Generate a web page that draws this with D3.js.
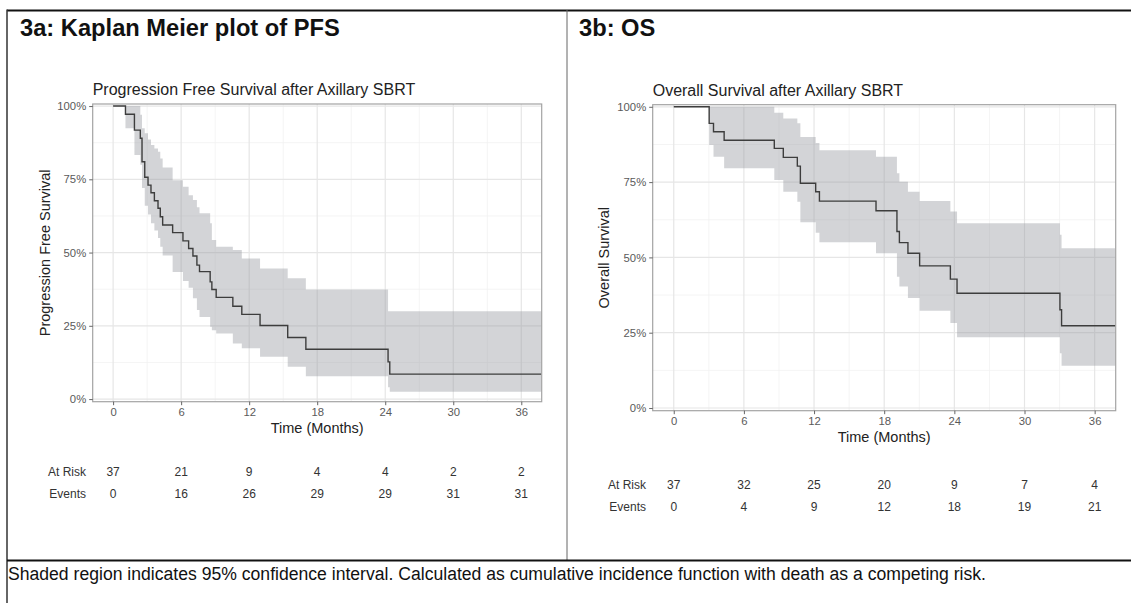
<!DOCTYPE html>
<html>
<head>
<meta charset="utf-8">
<script src="https://cdn.jsdelivr.net/npm/d3@7"></script>
<style>
  body { margin: 0; background: #fff; }
  svg { display: block; font-family: "Liberation Sans", Arial, sans-serif; }
</style>
</head>
<body>
<script>
// ---- data ----
const timeTicks = [0, 6, 12, 18, 24, 30, 36];
const minorTimeTicks = [3, 9, 15, 21, 27, 33];
const survTicks = [0, 0.25, 0.5, 0.75, 1];
const minorSurvTicks = [0.125, 0.375, 0.625, 0.875];

// progression free survival (step times in months)
const pfsTime  = [0, 1.09, 1.88, 2.4, 2.55, 2.79, 3.08, 3.34, 3.64, 3.96, 4.16, 4.37, 5.25, 6.16, 6.66, 7.04, 7.39, 7.62, 8.56, 8.71, 9.09, 10.56, 11.35, 12.96, 15.4, 17.0, 24.25, 24.4];
const pfsSurv  = [1, 0.972, 0.918, 0.89, 0.81, 0.757, 0.73, 0.704, 0.677, 0.651, 0.622, 0.594, 0.568, 0.54, 0.514, 0.488, 0.457, 0.435, 0.40, 0.374, 0.347, 0.317, 0.289, 0.251, 0.21, 0.17, 0.127, 0.085];
const pfsUpper = [1, 1, 1, 0.97, 0.924, 0.907, 0.886, 0.867, 0.855, 0.844, 0.821, 0.79, 0.747, 0.725, 0.696, 0.679, 0.655, 0.634, 0.60, 0.543, 0.52, 0.509, 0.48, 0.446, 0.412, 0.374, 0.30, 0.30];
const pfsLower = [1, 0.924, 0.833, 0.80, 0.72, 0.66, 0.63, 0.60, 0.575, 0.55, 0.52, 0.49, 0.434, 0.403, 0.38, 0.344, 0.304, 0.28, 0.247, 0.235, 0.224, 0.19, 0.173, 0.144, 0.11, 0.078, 0.04, 0.025];
const pfsAtRisk = [37, 21, 9, 4, 4, 2, 2];
const pfsEvents = [0, 16, 26, 29, 29, 31, 31];

// overall survival
const osTime  = [0, 3.03, 3.4, 4.31, 8.6, 9.37, 10.57, 10.83, 12.14, 12.46, 17.3, 19.09, 19.3, 20.03, 21.03, 23.66, 24.23, 33.03, 33.17];
const osSurv  = [1, 0.945, 0.917, 0.889, 0.862, 0.832, 0.803, 0.746, 0.718, 0.687, 0.655, 0.586, 0.549, 0.514, 0.472, 0.428, 0.381, 0.326, 0.273];
const osUpper = [1, 1, 1, 1, 0.98, 0.961, 0.945, 0.90, 0.88, 0.856, 0.834, 0.779, 0.751, 0.718, 0.687, 0.652, 0.613, 0.575, 0.53];
const osLower = [1, 0.873, 0.834, 0.796, 0.757, 0.718, 0.685, 0.617, 0.582, 0.55, 0.514, 0.436, 0.403, 0.365, 0.323, 0.282, 0.235, 0.182, 0.14];
const osAtRisk = [37, 32, 25, 20, 9, 7, 4];
const osEvents = [0, 4, 9, 12, 18, 19, 21];

const footnote = "Shaded region indicates 95% confidence interval. Calculated as cumulative incidence function with death as a competing risk.";

// ---- layout ----
const W = 1131, H = 603;
const svg = d3.select("body").append("svg").attr("width", W).attr("height", H);

// table frame
svg.append("line").attr("x1", 7).attr("x2", W).attr("y1", 10.5).attr("y2", 10.5)
  .attr("stroke", "#111").attr("stroke-width", 2);
svg.append("line").attr("x1", 7).attr("x2", 7).attr("y1", 9.5).attr("y2", H)
  .attr("stroke", "#333").attr("stroke-width", 1.5);
svg.append("line").attr("x1", 567).attr("x2", 567).attr("y1", 10).attr("y2", 560)
  .attr("stroke", "#666").attr("stroke-width", 1);
svg.append("line").attr("x1", 7).attr("x2", W).attr("y1", 560.5).attr("y2", 560.5)
  .attr("stroke", "#111").attr("stroke-width", 2);

svg.append("text").attr("x", 20).attr("y", 36)
  .attr("font-size", 23.7).attr("font-weight", "bold").attr("fill", "#111")
  .text("3a: Kaplan Meier plot of PFS");
svg.append("text").attr("x", 579).attr("y", 36)
  .attr("font-size", 23.7).attr("font-weight", "bold").attr("fill", "#111")
  .text("3b: OS");

svg.append("text").attr("x", 8).attr("y", 580)
  .attr("font-size", 17.6).attr("fill", "#111")
  .text(footnote);

const panels = [
  { key: "pfs", left: 92.7, right: 541.7, top: 104, bottom: 401.7,
    title: "Progression Free Survival after Axillary SBRT", ylab: "Progression Free Survival",
    ylabX: 50, xlabY: 433, riskY: [476, 498], riskLabelX: 86,
    time: pfsTime, surv: pfsSurv, upper: pfsUpper, lower: pfsLower, atRisk: pfsAtRisk, events: pfsEvents },
  { key: "os", left: 652.7, right: 1115.7, top: 104.7, bottom: 410.7,
    title: "Overall Survival after Axillary SBRT", ylab: "Overall Survival",
    ylabX: 609, xlabY: 442, riskY: [489, 511], riskLabelX: 646,
    time: osTime, surv: osSurv, upper: osUpper, lower: osLower, atRisk: osAtRisk, events: osEvents }
];

panels.forEach(p => {
  const x = d3.scaleLinear().domain([-1.8, 37.8]).range([p.left, p.right]);
  const y = d3.scaleLinear().domain([-0.009, 1.007]).range([p.bottom, p.top]);
  const g = svg.append("g");

  g.append("clipPath").attr("id", "clip-" + p.key)
    .append("rect").attr("x", p.left).attr("y", p.top)
    .attr("width", p.right - p.left).attr("height", p.bottom - p.top);

  // grid
  g.selectAll(null).data(minorTimeTicks).join("line")
    .attr("x1", d => x(d)).attr("x2", d => x(d)).attr("y1", p.top).attr("y2", p.bottom)
    .attr("stroke", "#f1f1f1").attr("stroke-width", 0.8);
  g.selectAll(null).data(minorSurvTicks).join("line")
    .attr("y1", d => y(d)).attr("y2", d => y(d)).attr("x1", p.left).attr("x2", p.right)
    .attr("stroke", "#f1f1f1").attr("stroke-width", 0.8);
  g.selectAll(null).data(timeTicks).join("line")
    .attr("x1", d => x(d)).attr("x2", d => x(d)).attr("y1", p.top).attr("y2", p.bottom)
    .attr("stroke", "#e6e6e6").attr("stroke-width", 1.2);
  g.selectAll(null).data(survTicks).join("line")
    .attr("y1", d => y(d)).attr("y2", d => y(d)).attr("x1", p.left).attr("x2", p.right)
    .attr("stroke", "#e6e6e6").attr("stroke-width", 1.2);

  // step curve with its confidence band
  const pts = p.time.map((t, i) => ({ t, s: p.surv[i], hi: p.upper[i], lo: p.lower[i] }));
  pts.push({ ...pts[pts.length - 1], t: x.domain()[1] });

  const band = d3.area().curve(d3.curveStepAfter)
    .x(d => x(d.t)).y0(d => y(d.lo)).y1(d => y(d.hi));
  const line = d3.line().curve(d3.curveStepAfter)
    .x(d => x(d.t)).y(d => y(d.s));

  const plot = g.append("g").attr("clip-path", `url(#clip-${p.key})`);
  plot.append("path").datum(pts).attr("d", band)
    .attr("fill", "rgb(150,153,160)").attr("fill-opacity", 0.42);
  plot.append("path").datum(pts).attr("d", line)
    .attr("fill", "none").attr("stroke", "#3d3d3d").attr("stroke-width", 1.4);

  // panel border
  g.append("rect").attr("x", p.left).attr("y", p.top)
    .attr("width", p.right - p.left).attr("height", p.bottom - p.top)
    .attr("fill", "none").attr("stroke", "#a3a3a3").attr("stroke-width", 1.2);

  // axes
  const styleAxis = a => {
    a.select(".domain").remove();
    a.selectAll(".tick line").attr("stroke", "#555").attr("stroke-width", 0.9);
    a.selectAll(".tick text").attr("fill", "#5a5a5a").attr("font-size", 11.3)
      .attr("font-family", "Liberation Sans, Arial, sans-serif");
  };
  g.append("g").attr("transform", `translate(${p.left},0)`)
    .call(d3.axisLeft(y).tickValues(survTicks).tickFormat(d3.format(".0%")).tickSize(3.5).tickPadding(3))
    .call(styleAxis);
  g.append("g").attr("transform", `translate(0,${p.bottom})`)
    .call(d3.axisBottom(x).tickValues(timeTicks).tickSize(3.5).tickPadding(3))
    .call(styleAxis);

  // titles
  g.append("text").attr("x", p.left).attr("y", p.top - 9)
    .attr("font-size", 16).attr("fill", "#222").text(p.title);
  g.append("text").attr("x", (p.left + p.right) / 2).attr("y", p.xlabY)
    .attr("text-anchor", "middle").attr("font-size", 14.5).attr("fill", "#222")
    .text("Time (Months)");
  g.append("text")
    .attr("transform", `translate(${p.ylabX},${(p.top + p.bottom) / 2}) rotate(-90)`)
    .attr("text-anchor", "middle").attr("font-size", 14.5).attr("fill", "#222")
    .text(p.ylab);

  // numbers at risk table
  [["At Risk", p.atRisk], ["Events", p.events]].forEach(([label, vals], r) => {
    g.append("text").attr("x", p.riskLabelX).attr("y", p.riskY[r])
      .attr("text-anchor", "end").attr("font-size", 12).attr("fill", "#333").text(label);
    g.selectAll(null).data(vals).join("text")
      .attr("x", (d, i) => x(timeTicks[i])).attr("y", p.riskY[r])
      .attr("text-anchor", "middle").attr("font-size", 12).attr("fill", "#333")
      .text(d => d);
  });
});
</script>
</body>
</html>
